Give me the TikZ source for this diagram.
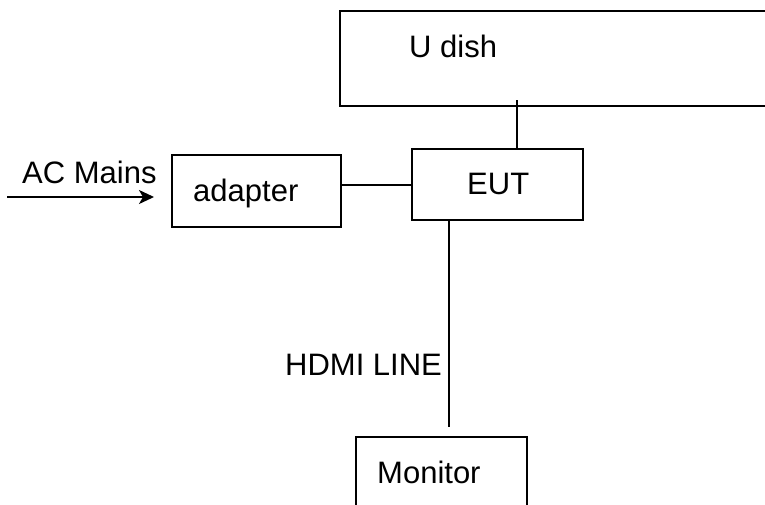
\documentclass[tikz,border=0pt]{standalone}
\usepackage{fontspec}
\setmainfont{Liberation Sans}
\usetikzlibrary{arrows.meta}
\begin{document}
\begin{tikzpicture}[x=1pt,y=-1pt,
  boxshape/.style={draw, line width=2pt, rectangle, inner sep=0pt, minimum width=#1},
  lbl/.style={anchor=base west, inner sep=0pt, font=\fontsize{31}{37}\selectfont},
  wire/.style={line width=2pt}]
\clip (0,0) rectangle (765,504);
\useasboundingbox (0,0) rectangle (765,504);
% boxes
\node[boxshape=435pt, minimum height=95.5pt] (udish) at (557.5,58.5) {};
\node[boxshape=169pt, minimum height=72pt] (adapter) at (256.5,191) {};
\node[boxshape=171pt, minimum height=71pt] (eut) at (497.5,184.5) {};
\node[boxshape=171pt, minimum height=90pt] (monitor) at (441.5,482) {};
% texts
\node[lbl] (tudish) at (409,57) {U dish};
\node[lbl] (tadapter) at (193,201) {adapter};
\node[lbl] (teut) at (467,194) {EUT};
\node[lbl] (tmonitor) at (377,483) {Monitor};
\node[lbl] (tac) at (22,183) {AC Mains};
\node[lbl] (thdmi) at (285,375) {HDMI LINE};
% connectors
\coordinate (u1) at (517,100);
\draw[wire] (u1) -- (u1 |- eut.north);
\draw[wire] (adapter.east |- eut.west) -- (eut.west);
\coordinate (h2) at (449,427);
\draw[wire] (eut.south -| h2) -- (h2);
\coordinate (ac1) at (7,197);
\coordinate (ac2) at (154,197);
\draw[wire, -{Stealth[length=15pt,width=14pt,inset=4pt]}] (ac1) -- (ac2);
\end{tikzpicture}
\end{document}
